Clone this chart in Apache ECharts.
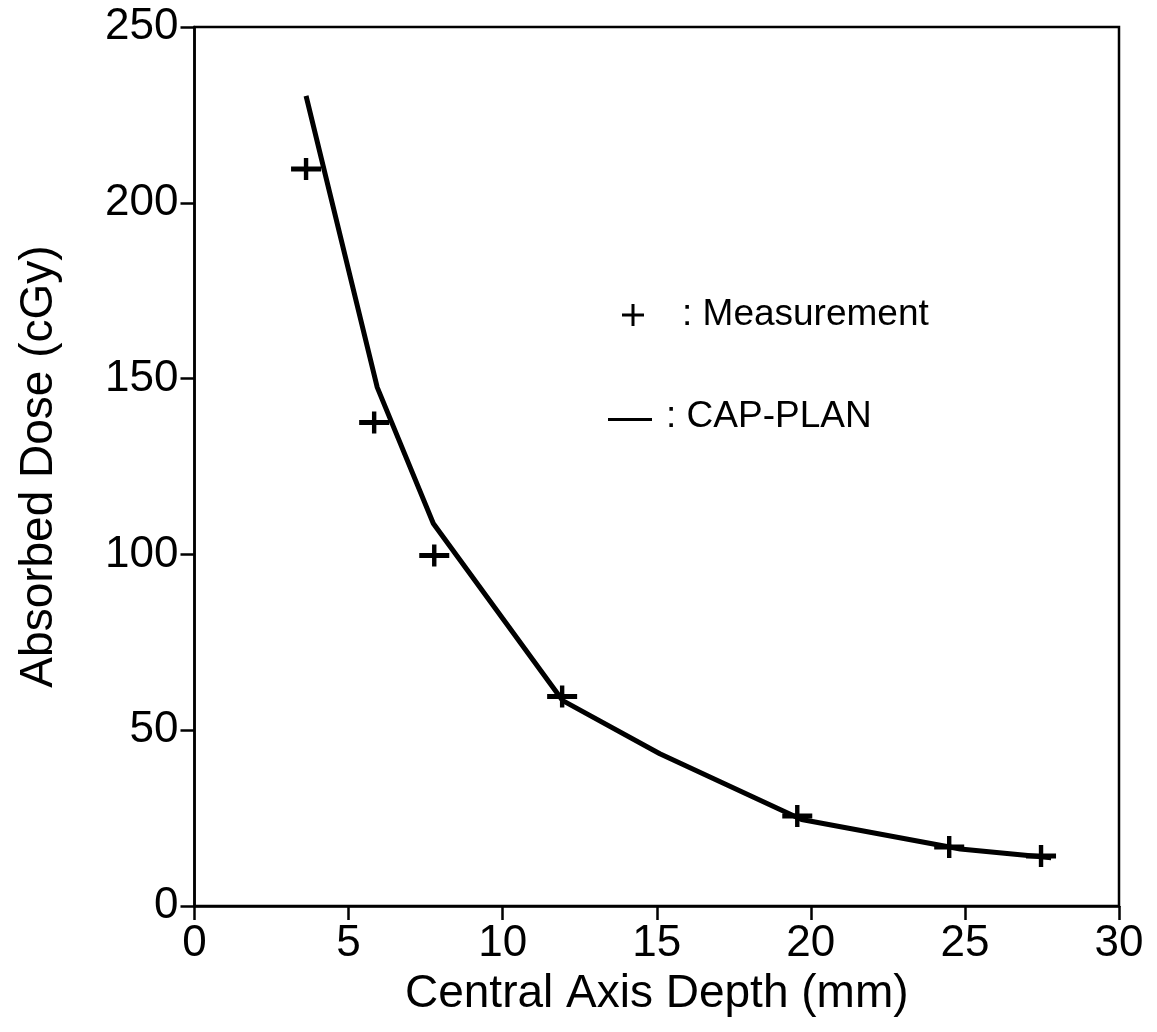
<!DOCTYPE html>
<html>
<head>
<meta charset="utf-8">
<script src="https://cdn.jsdelivr.net/npm/echarts@6/dist/echarts.min.js"></script>
<style>
html,body{margin:0;padding:0;background:#fff;}
#chart{width:1157px;height:1032px;}
</style>
</head>
<body>
<div id="chart"></div>
<script>
// Measurement points (+)
const measDepth = [3.62, 5.83, 7.78, 11.93, 19.56, 24.49, 27.47];
const measDose  = [209.6, 137.5, 99.7, 59.6, 25.6, 16.8, 14.2];
// CAP-PLAN calculated curve (—)
const planDepth = [3.62, 5.93, 7.75, 11.95, 15.1, 19.7, 24.85, 27.8];
const planDose  = [230.4, 147.5, 108.8, 58.4, 43.3, 24.6, 16.2, 13.7];
// Axis ticks
const xTicks = [0, 5, 10, 15, 20, 25, 30];
const yTicks = [0, 50, 100, 150, 200, 250];

const FONT = '"Liberation Sans", Arial, Helvetica, sans-serif';
const plusPath = 'path://M0,8.5 L30,8.5 L30,13.5 L0,13.5 Z M12.8,0 L17.2,0 L17.2,22 L12.8,22 Z';

const chart = echarts.init(document.getElementById('chart'));
chart.setOption({
  backgroundColor: '#ffffff',
  animation: false,
  grid: {
    left: 194.5, right: 38, top: 27, bottom: 126,
    show: true, borderColor: '#000', borderWidth: 2.5, backgroundColor: 'transparent'
  },
  xAxis: {
    type: 'value',
    min: xTicks[0], max: xTicks[xTicks.length - 1], interval: 5,
    name: 'Central Axis Depth (mm)',
    nameLocation: 'middle', nameGap: 55,
    nameTextStyle: { fontFamily: FONT, fontSize: 46, color: '#000' },
    axisLine: { show: true, lineStyle: { color: '#000', width: 2.5 } },
    axisTick: { show: true, inside: false, length: 14, lineStyle: { color: '#000', width: 2.5 } },
    axisLabel: { fontFamily: FONT, fontSize: 44, color: '#000', margin: 16,
      formatter: v => xTicks.includes(v) ? String(v) : '' },
    splitLine: { show: false }
  },
  yAxis: {
    type: 'value',
    min: yTicks[0], max: yTicks[yTicks.length - 1], interval: 50,
    name: 'Absorbed Dose (cGy)',
    nameLocation: 'middle', nameGap: 132, nameRotate: 90,
    nameTextStyle: { fontFamily: FONT, fontSize: 46, color: '#000' },
    axisLine: { show: true, lineStyle: { color: '#000', width: 2.5 } },
    axisTick: { show: true, inside: false, length: 14, lineStyle: { color: '#000', width: 2.5 } },
    axisLabel: { fontFamily: FONT, fontSize: 44, color: '#000', margin: 16,
      formatter: v => yTicks.includes(v) ? String(v) : '' },
    splitLine: { show: false }
  },
  series: [
    {
      name: 'CAP-PLAN',
      type: 'line',
      data: planDepth.map((x, i) => [x, planDose[i]]),
      showSymbol: false,
      symbol: 'none',
      lineStyle: { color: '#000', width: 5 },
      z: 2
    },
    {
      name: 'Measurement',
      type: 'scatter',
      data: measDepth.map((x, i) => [x, measDose[i]]),
      symbol: plusPath,
      symbolSize: [30, 22],
      itemStyle: { color: '#000', opacity: 1 },
      z: 3
    }
  ],
  graphic: [
    { type: 'rect', shape: { x: 622, y: 313.5, width: 22, height: 3 }, style: { fill: '#000' } },
    { type: 'rect', shape: { x: 631.5, y: 304, width: 3, height: 22 }, style: { fill: '#000' } },
    { type: 'text', left: 682, top: 296,
      style: { text: ': Measurement', font: '37px ' + FONT, fill: '#000' } },
    { type: 'rect', shape: { x: 608, y: 418, width: 44, height: 3 },
      style: { fill: '#000' } },
    { type: 'text', left: 666, top: 398,
      style: { text: ': CAP-PLAN', font: '37px ' + FONT, fill: '#000' } }
  ]
});
</script>
</body>
</html>
